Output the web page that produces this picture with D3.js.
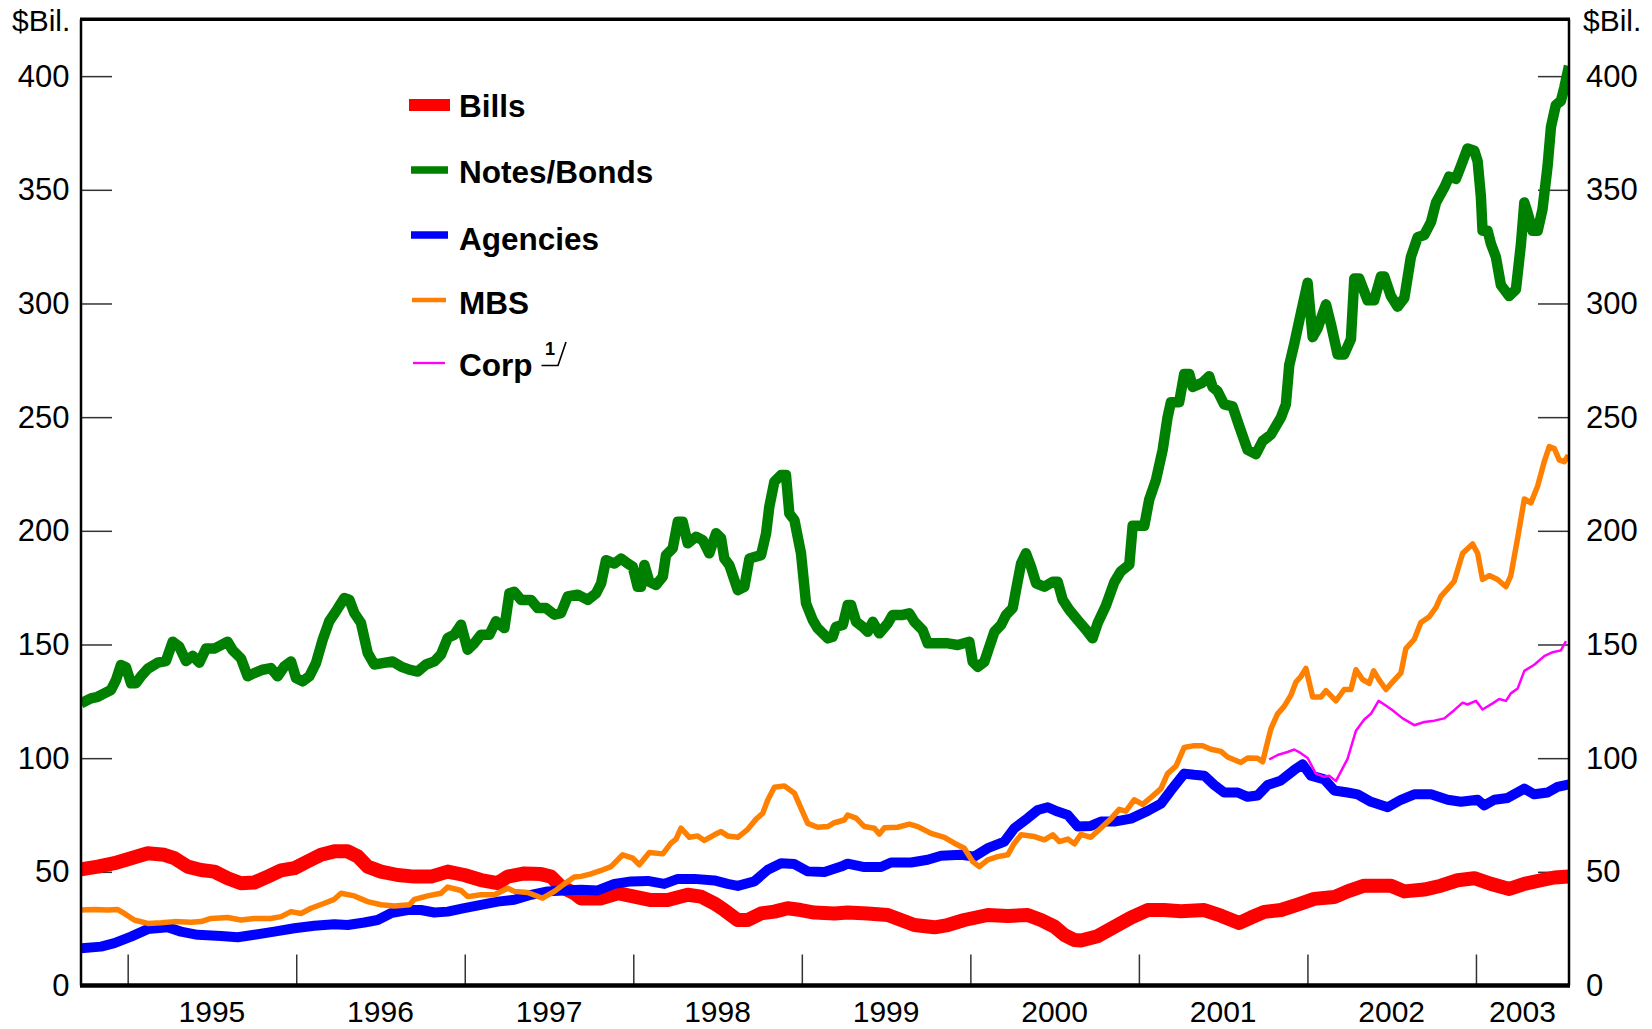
<!DOCTYPE html>
<html><head><meta charset="utf-8">
<script src="https://cdn.jsdelivr.net/npm/d3@7"></script>
<style>
body{margin:0;background:#fff}
svg{display:block}
text{font-family:"Liberation Sans",Arial,Helvetica,sans-serif;fill:#000}
</style>
</head><body>
<svg id="c" width="1652" height="1029"></svg>
<script>
// ---- DATA (decimal year, $ billions) ----
const seriesNames = ["Bills", "Notes/Bonds", "Agencies", "MBS", "Corp"];

const bills = [[1994.723,51.1],[1994.822,52.3],[1994.921,53.8],[1995.020,56],[1995.119,58.2],[1995.217,57.5],[1995.277,56],[1995.356,52.3],[1995.435,50.8],[1995.514,50.1],[1995.593,47.2],[1995.672,45],[1995.751,45.3],[1995.831,47.9],[1995.910,50.6],[1995.989,51.6],[1996.068,54.6],[1996.147,57.5],[1996.226,59],[1996.305,59],[1996.365,56.8],[1996.424,52.3],[1996.503,50.1],[1996.602,48.6],[1996.701,47.9],[1996.800,47.9],[1996.899,50.1],[1996.997,48.6],[1997.096,46.4],[1997.195,45],[1997.255,47.9],[1997.354,49.3],[1997.452,49],[1997.512,47.9],[1997.571,43.5],[1997.650,40.6],[1997.690,38.3],[1997.809,38.3],[1997.908,40.6],[1998.006,39.1],[1998.105,37.6],[1998.204,37.6],[1998.323,39.9],[1998.402,39.1],[1998.481,36.1],[1998.540,33.2],[1998.620,28.8],[1998.679,28.8],[1998.758,31.7],[1998.837,32.5],[1998.916,34],[1998.995,33.2],[1999.074,32.1],[1999.193,31.7],[1999.272,32.1],[1999.391,31.7],[1999.510,31],[1999.589,28.8],[1999.668,26.6],[1999.787,25.6],[1999.866,26.6],[1999.964,28.8],[2000.103,31],[2000.222,30.6],[2000.340,31],[2000.419,28.8],[2000.499,25.9],[2000.558,22.2],[2000.617,20],[2000.656,19.8],[2000.755,21.7],[2000.854,25.8],[2000.953,29.9],[2001.052,33.2],[2001.150,33.2],[2001.249,32.7],[2001.388,33.2],[2001.487,30.7],[2001.595,27.5],[2001.665,29.9],[2001.744,32.4],[2001.843,33.2],[2001.942,35.6],[2002.040,38.1],[2002.159,38.9],[2002.238,41.4],[2002.337,43.9],[2002.495,43.9],[2002.575,41.4],[2002.693,42.2],[2002.792,43.9],[2002.891,46.3],[2002.990,47.2],[2003.089,44.7],[2003.198,42.5],[2003.287,44.7],[2003.386,46.3],[2003.465,47.5],[2003.553,48]];

const notes = [[1994.723,124.1],[1994.782,126.3],[1994.822,127],[1994.861,128.5],[1994.901,130],[1994.931,134.4],[1994.960,141],[1994.990,140],[1995.020,132.9],[1995.049,133],[1995.079,136],[1995.119,139.3],[1995.178,142],[1995.227,142.7],[1995.267,151.2],[1995.306,149],[1995.346,142.7],[1995.386,145],[1995.425,142],[1995.465,148.2],[1995.514,148.2],[1995.554,149.7],[1995.593,151.2],[1995.623,147.5],[1995.672,143.9],[1995.712,136],[1995.751,137.4],[1995.801,138.9],[1995.850,139.6],[1995.890,136],[1995.929,140.3],[1995.969,142.5],[1995.999,135.2],[1996.038,133.8],[1996.078,136],[1996.117,141.8],[1996.157,152.1],[1996.196,160.2],[1996.236,164.6],[1996.285,170.4],[1996.315,169.7],[1996.345,163.8],[1996.384,159.5],[1996.424,146.3],[1996.463,141.2],[1996.513,141.8],[1996.572,142.5],[1996.622,140.3],[1996.671,138.9],[1996.721,138.1],[1996.770,141.2],[1996.820,142.6],[1996.859,145.6],[1996.899,152.9],[1996.938,154.3],[1996.978,158.7],[1997.017,147.7],[1997.057,150.6],[1997.096,154.3],[1997.146,154.3],[1997.185,160.2],[1997.235,157.2],[1997.265,172.5],[1997.294,173.2],[1997.334,169.6],[1997.393,169.6],[1997.433,166],[1997.482,166],[1997.532,163.1],[1997.571,163.8],[1997.611,171.1],[1997.670,171.9],[1997.730,169.6],[1997.779,172.5],[1997.809,176.9],[1997.838,187.1],[1997.888,185.6],[1997.927,187.8],[1997.967,185.6],[1997.997,184.2],[1998.026,175.4],[1998.046,175.4],[1998.066,185],[1998.095,177.6],[1998.135,176.2],[1998.175,179.8],[1998.194,189.3],[1998.234,192.3],[1998.264,204],[1998.293,204],[1998.323,194.5],[1998.372,197.4],[1998.412,195.9],[1998.451,190.1],[1998.491,198.9],[1998.521,196.7],[1998.540,187.8],[1998.570,184.9],[1998.620,173.9],[1998.659,175.4],[1998.689,187.8],[1998.758,189.3],[1998.788,198.9],[1998.807,210.6],[1998.837,221.6],[1998.877,224.5],[1998.906,224.5],[1998.926,207.6],[1998.956,204.7],[1998.995,190.1],[1999.025,168.1],[1999.065,160.7],[1999.094,157.1],[1999.154,152.7],[1999.183,153.4],[1999.203,157.8],[1999.243,158.6],[1999.272,167.4],[1999.292,167.4],[1999.322,160],[1999.361,157.8],[1999.391,155.6],[1999.421,160],[1999.460,154.9],[1999.510,159.3],[1999.539,163],[1999.599,163],[1999.638,163.7],[1999.668,160],[1999.717,156.3],[1999.747,150.5],[1999.806,150.5],[1999.866,150.5],[1999.925,149.8],[1999.994,151.2],[2000.014,142.4],[2000.044,140.2],[2000.083,142.4],[2000.113,149.1],[2000.143,155.6],[2000.182,158.6],[2000.212,163],[2000.251,166],[2000.271,174],[2000.301,185.6],[2000.330,190.1],[2000.360,184.2],[2000.390,176.9],[2000.439,175.4],[2000.489,177.6],[2000.518,177.6],[2000.548,169.6],[2000.587,165.2],[2000.637,160.7],[2000.686,156.5],[2000.725,152.7],[2000.755,159.3],[2000.804,167],[2000.854,177.4],[2000.893,182.2],[2000.943,185.1],[2000.963,202.2],[2001.032,202.2],[2001.061,213.7],[2001.101,222.3],[2001.141,235.6],[2001.170,249.9],[2001.190,256.6],[2001.239,256.6],[2001.269,269],[2001.299,269],[2001.319,263.3],[2001.378,265.2],[2001.417,268],[2001.437,263.3],[2001.467,261.4],[2001.506,255.6],[2001.556,254.7],[2001.595,246.1],[2001.645,235.6],[2001.694,233.7],[2001.734,239.5],[2001.783,242.3],[2001.843,249.9],[2001.872,255.6],[2001.892,272.8],[2001.922,282.3],[2001.961,295.7],[2002.001,309.1],[2002.031,285.2],[2002.060,289],[2002.110,299.6],[2002.139,291],[2002.179,277.6],[2002.218,277.6],[2002.258,284.3],[2002.278,311],[2002.307,311],[2002.357,301.4],[2002.396,301.4],[2002.436,311.9],[2002.456,311.9],[2002.495,303.3],[2002.535,298.6],[2002.575,302.4],[2002.614,320.5],[2002.654,329.1],[2002.693,330.1],[2002.733,335.8],[2002.763,344.4],[2002.812,351],[2002.841,355.8],[2002.881,354.8],[2002.911,360.5],[2002.950,368.2],[2002.990,367.2],[2003.010,362.5],[2003.029,347.2],[2003.039,332],[2003.069,332],[2003.089,326.2],[2003.118,320.5],[2003.148,308.1],[2003.197,303.3],[2003.237,306.2],[2003.267,326.2],[2003.287,344.4],[2003.306,340],[2003.336,332],[2003.366,332],[2003.395,341.5],[2003.425,360.5],[2003.445,377.7],[2003.474,387.3],[2003.504,389.1],[2003.524,394.9],[2003.552,404.5]];

const agencies = [[1994.723,16.4],[1994.842,17.1],[1994.921,18.6],[1995.020,21.5],[1995.119,24.8],[1995.237,25.6],[1995.316,23.7],[1995.415,22.3],[1995.554,21.8],[1995.653,21.2],[1995.751,22.3],[1995.870,23.7],[1995.989,25.2],[1996.107,26.3],[1996.226,26.9],[1996.305,26.6],[1996.404,27.7],[1996.483,28.8],[1996.562,31.8],[1996.661,33.2],[1996.740,33.2],[1996.819,32.1],[1996.899,32.5],[1996.997,34],[1997.096,35.5],[1997.195,36.9],[1997.294,37.7],[1997.393,39.9],[1997.492,41.4],[1997.591,41.8],[1997.690,42.1],[1997.789,41.8],[1997.888,44.7],[1997.987,45.8],[1998.086,46],[1998.184,44.7],[1998.264,46.9],[1998.362,46.9],[1998.481,46.2],[1998.560,44.7],[1998.620,43.8],[1998.718,45.8],[1998.798,50.9],[1998.877,53.8],[1998.956,53.4],[1999.035,50.2],[1999.134,49.9],[1999.233,52.3],[1999.272,53.6],[1999.371,52.1],[1999.470,52.1],[1999.529,54.1],[1999.648,54.1],[1999.747,55.3],[1999.826,57.1],[1999.945,57.5],[2000.024,56.7],[2000.103,60.4],[2000.202,63.3],[2000.261,69.2],[2000.340,73.6],[2000.400,77.2],[2000.459,78.4],[2000.518,76.5],[2000.578,75],[2000.637,69.9],[2000.715,70.2],[2000.775,72.1],[2000.854,72.1],[2000.953,73.4],[2001.052,76.8],[2001.131,80],[2001.190,85.8],[2001.269,93.2],[2001.328,92.7],[2001.388,92.3],[2001.447,88.2],[2001.506,84.9],[2001.586,84.9],[2001.645,83],[2001.704,83.6],[2001.764,88.2],[2001.843,90.2],[2001.922,94.8],[2001.971,97.3],[2002.021,92.3],[2002.100,90.7],[2002.159,85.8],[2002.238,84.9],[2002.298,84.1],[2002.377,80.8],[2002.476,78.4],[2002.555,81.7],[2002.634,84.1],[2002.733,84.1],[2002.832,81.7],[2002.911,80.8],[2003.010,81.7],[2003.049,79.2],[2003.109,81.7],[2003.188,82.5],[2003.287,86.6],[2003.346,84.1],[2003.425,84.9],[2003.484,87.4],[2003.553,88.5]];

const mbs = [[1994.723,33.2],[1994.802,33.4],[1994.881,33.2],[1994.941,33.4],[1994.980,31.7],[1995.039,28.8],[1995.119,27.3],[1995.198,27.6],[1995.277,28.1],[1995.376,27.8],[1995.435,28.1],[1995.494,29.5],[1995.593,29.9],[1995.672,28.8],[1995.751,29.5],[1995.850,29.5],[1995.910,30.3],[1995.969,32.5],[1996.028,31.7],[1996.088,34],[1996.167,36.2],[1996.226,37.9],[1996.266,40.6],[1996.345,39.4],[1996.424,36.9],[1996.503,35.5],[1996.582,35],[1996.671,35.5],[1996.701,37.9],[1996.780,39.4],[1996.859,40.6],[1996.899,43.3],[1996.978,41.8],[1997.017,39.1],[1997.096,39.9],[1997.176,39.9],[1997.255,42.8],[1997.294,41.4],[1997.373,40.9],[1997.462,38.4],[1997.532,41.4],[1997.591,44.7],[1997.650,47.7],[1997.690,48],[1997.749,49.1],[1997.809,50.6],[1997.868,52.3],[1997.937,57.5],[1997.997,56],[1998.036,53.1],[1998.095,58.5],[1998.175,57.9],[1998.224,62.6],[1998.254,64.4],[1998.283,69.2],[1998.333,65.2],[1998.382,65.8],[1998.422,63.8],[1998.481,66.3],[1998.521,67.7],[1998.560,65.8],[1998.620,65.2],[1998.679,68.7],[1998.728,73.1],[1998.768,75.8],[1998.798,81.6],[1998.837,87.2],[1998.897,87.8],[1998.956,84.6],[1998.995,78],[1999.035,71.3],[1999.094,69.6],[1999.154,69.9],[1999.193,71.6],[1999.252,72.8],[1999.272,75],[1999.322,73.6],[1999.371,69.9],[1999.430,69.2],[1999.460,66.6],[1999.490,69.4],[1999.569,69.6],[1999.638,71],[1999.688,69.9],[1999.767,66.9],[1999.846,65.2],[1999.905,62.6],[1999.964,60.4],[2000.014,54.5],[2000.053,52.3],[2000.103,55.3],[2000.162,56.7],[2000.222,57.5],[2000.261,62.6],[2000.301,66.3],[2000.380,65.5],[2000.439,64.1],[2000.489,66.3],[2000.528,63.3],[2000.578,64.4],[2000.617,62.3],[2000.656,66.5],[2000.715,65.2],[2000.775,69.3],[2000.834,73.4],[2000.883,77.5],[2000.923,76.7],[2000.972,81.7],[2001.022,79.7],[2001.081,83.3],[2001.131,86.6],[2001.170,93.2],[2001.220,96.5],[2001.269,104.7],[2001.328,105.5],[2001.378,105.5],[2001.427,103.9],[2001.487,103],[2001.526,100.5],[2001.605,98.1],[2001.645,100.1],[2001.704,100],[2001.734,98.4],[2001.783,112.9],[2001.823,119.5],[2001.862,122.8],[2001.902,127.7],[2001.932,133.5],[2001.961,135.9],[2001.991,139.5],[2002.031,126.9],[2002.080,126.9],[2002.110,129.7],[2002.169,125.2],[2002.218,130.2],[2002.258,130.2],[2002.288,138.9],[2002.327,134.6],[2002.367,132.9],[2002.393,138.4],[2002.426,134.3],[2002.466,130.2],[2002.515,134.3],[2002.555,137.5],[2002.584,148.2],[2002.634,152.3],[2002.673,159.7],[2002.723,162.2],[2002.763,166.3],[2002.792,171.2],[2002.832,174.5],[2002.871,177.8],[2002.921,190.1],[2002.980,194.2],[2003.010,190.1],[2003.039,178.6],[2003.079,180.3],[2003.128,178.6],[2003.178,175.4],[2003.207,180.3],[2003.247,196.7],[2003.287,214],[2003.326,212.3],[2003.366,219.7],[2003.405,230.4],[2003.435,237],[2003.465,236.2],[2003.494,231.2],[2003.524,230.4],[2003.548,233.2]];

const corp = [[2001.773,99.4],[2001.823,101.4],[2001.882,102.7],[2001.922,103.8],[2001.961,102.2],[2002.001,100.1],[2002.050,93.2],[2002.100,91.8],[2002.129,92.3],[2002.169,89.9],[2002.238,99.7],[2002.288,112.1],[2002.337,117],[2002.377,119.5],[2002.422,125.2],[2002.456,123.6],[2002.505,121.1],[2002.565,117.5],[2002.634,114.5],[2002.693,115.9],[2002.753,116.5],[2002.812,117.5],[2002.871,121.1],[2002.921,124.4],[2002.950,123.6],[2003.000,125.2],[2003.039,121.4],[2003.099,124.1],[2003.138,126],[2003.178,125.2],[2003.207,128.5],[2003.247,130.6],[2003.287,138.4],[2003.346,141.1],[2003.405,144.9],[2003.455,146.6],[2003.504,147.4],[2003.534,151.5]];

const yTicks = [0, 50, 100, 150, 200, 250, 300, 350, 400];
const yearTicks = [1995, 1996, 1997, 1998, 1999, 2000, 2001, 2002, 2003];
const yearLabels = ["1995", "1996", "1997", "1998", "1999", "2000", "2001", "2002", "2003"];
const unitLabel = "$Bil.";

// ---- LAYOUT / STYLE ----
const L = 81, R = 1569, T = 19.3, B = 985.5;
const xDomain = [1994.723, 2003.552];
const x = d3.scaleLinear().domain(xDomain).range([L, R]);
const y = d3.scaleLinear().domain([0, 425]).range([B, T]);

const series = [
  {name: seriesNames[0], data: bills,    color: "#ff0000", width: 14,   lw: 12,  sx: [409, 450], ly: 105, ty: 117},
  {name: seriesNames[1], data: notes,    color: "#008000", width: 10.5, lw: 7.5, sx: [411, 448], ly: 170, ty: 183},
  {name: seriesNames[2], data: agencies, color: "#0000ff", width: 10,   lw: 7.5, sx: [411, 448], ly: 235, ty: 250},
  {name: seriesNames[3], data: mbs,      color: "#ff8000", width: 5.5,  lw: 4.5, sx: [412, 446], ly: 300, ty: 314},
  {name: seriesNames[4], data: corp,     color: "#ff00ff", width: 2.5,  lw: 2.3, sx: [413, 445], ly: 363, ty: 376}
];

const svg = d3.select("#c");

svg.append("defs").append("clipPath").attr("id", "plotClip")
  .append("rect").attr("x", L).attr("y", T).attr("width", R - L).attr("height", B - T);

// axes (ticks drawn inward)
const tickLen = 31;
const gL = svg.append("g").attr("transform", `translate(${L},0)`)
  .call(d3.axisLeft(y).tickValues(yTicks).tickSize(-tickLen).tickPadding(11.5).tickFormat(d3.format("d")));
const gR = svg.append("g").attr("transform", `translate(${R},0)`)
  .call(d3.axisRight(y).tickValues(yTicks).tickSize(-tickLen).tickPadding(17).tickFormat(d3.format("d")));
const gB = svg.append("g").attr("transform", `translate(0,${B})`)
  .call(d3.axisBottom(x).tickValues(yearTicks).tickSize(-tickLen).tickFormat(""));

[gL, gR, gB].forEach(g => {
  g.select(".domain").remove();
  g.selectAll(".tick line").attr("stroke", "#333").attr("stroke-width", 1.5);
  g.selectAll(".tick text").attr("font-size", 31).attr("fill", "#000")
    .style("font-family", '"Liberation Sans", Arial, Helvetica, sans-serif');
});
// no tick marks at zero on the value axes (the baseline is the frame)
[gL, gR].forEach(g => g.selectAll(".tick").filter(d => d === 0).select("line").remove());

// year labels centred in each year span
svg.append("g").selectAll("text").data(yearTicks).join("text")
  .attr("x", d => (x(d) + x(Math.min(d + 1, xDomain[1]))) / 2)
  .attr("y", 1022)
  .attr("text-anchor", "middle")
  .attr("font-size", 30)
  .text((d, i) => yearLabels[i]);

// unit labels
svg.append("text").attr("x", 12).attr("y", 31).attr("font-size", 30).text(unitLabel);
svg.append("text").attr("x", 1583).attr("y", 31).attr("font-size", 30).text(unitLabel);

// lines
const line = d3.line().x(d => x(d[0])).y(d => y(d[1])).curve(d3.curveLinear);
svg.append("g").attr("clip-path", "url(#plotClip)")
  .selectAll("path").data(series).join("path")
  .attr("d", d => line(d.data))
  .attr("fill", "none")
  .attr("stroke", d => d.color)
  .attr("stroke-width", d => d.width)
  .attr("stroke-linejoin", "round")
  .attr("stroke-linecap", "butt");

// frame
svg.append("line").attr("x1", L).attr("x2", L).attr("y1", T).attr("y2", B).attr("stroke", "#000").attr("stroke-width", 2.5);
svg.append("line").attr("x1", R).attr("x2", R).attr("y1", T).attr("y2", B).attr("stroke", "#000").attr("stroke-width", 2.5);
svg.append("line").attr("x1", L - 1).attr("x2", R + 1).attr("y1", T).attr("y2", T).attr("stroke", "#000").attr("stroke-width", 3.5);
svg.append("line").attr("x1", L - 1).attr("x2", R + 1).attr("y1", B).attr("y2", B).attr("stroke", "#000").attr("stroke-width", 4.5);

// legend
const lg = svg.append("g");
series.forEach(s => {
  lg.append("line").attr("x1", s.sx[0]).attr("x2", s.sx[1]).attr("y1", s.ly).attr("y2", s.ly)
    .attr("stroke", s.color).attr("stroke-width", s.lw);
  lg.append("text").attr("x", 459).attr("y", s.ty).attr("font-size", 31.5).attr("font-weight", "bold").text(s.name);
});
// footnote marker "1/" after Corp
lg.append("text").attr("x", 545).attr("y", 355).attr("font-size", 18).attr("font-weight", "bold").text("1");
lg.append("path").attr("d", "M541.5,365.5 L558,365.5 L566,342").attr("fill", "none").attr("stroke", "#000").attr("stroke-width", 1.6);
</script>
</body></html>
